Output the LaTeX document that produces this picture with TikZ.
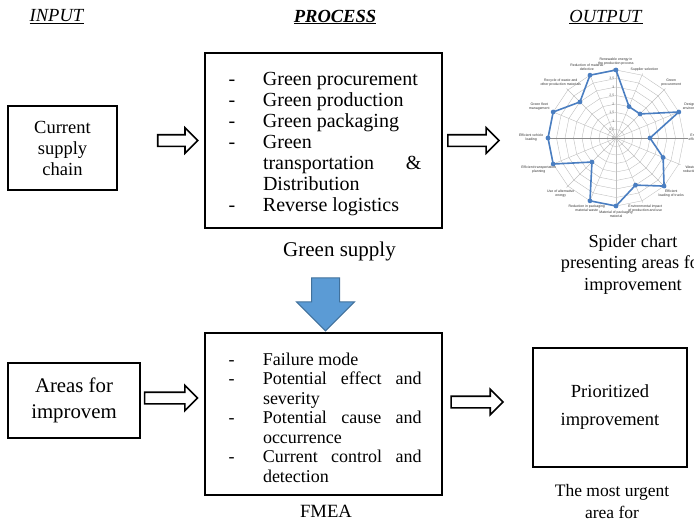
\documentclass[tikz,border=0pt]{standalone}
\usepackage{fontspec}
\setmainfont{Liberation Serif}
\newfontfamily\chartfont{Liberation Sans}
\usetikzlibrary{positioning, shapes.arrows}

\definecolor{arrowblue}{RGB}{91,155,213}
\definecolor{arrowedge}{RGB}{65,113,156}
\definecolor{seriesblue}{RGB}{74,126,193}

% one dashed entry of a box list, wrapped lines hang under the text
\newcommand{\dashitem}[1]{\par\noindent\hangindent=37.5pt\hangafter=1\makebox[37.5pt][l]{\hspace{3pt}-}#1\par}

\tikzset{
  head/.style={font=\fontsize{18.5}{20}\selectfont},
  smallbox/.style={draw, line width=1.6pt, align=center, inner sep=0pt},
  bigbox/.style={draw, line width=2.2pt, inner xsep=20.5pt, inner ysep=0pt,
    text width=196pt, minimum width=237pt, align=justify},
  hollow/.style={single arrow, draw, line width=1.6pt, inner sep=5pt,
    single arrow head extend=7pt, minimum height=40pt},
  gridline/.style={draw=black!25, line width=0.4pt},
  series/.style={draw=seriesblue, line width=1.6pt, line join=round},
  axislbl/.style={font=\chartfont\fontsize{3.5}{4}\selectfont, text=black!80,
    align=center, inner sep=0.5pt}
}

\begin{document}
\begin{tikzpicture}[x=1pt, y=-1pt]
    \useasboundingbox (0,0) rectangle (694,523);
    \clip (0,0) rectangle (694,523);

    % Column headings
    \node[head] (hin) at (57,17) {\underline{\textit{INPUT}}};
    \node[head] (hpro) at (335,17) {\underline{\textbf{\textit{PROCESS}}}};
    \node[head] (hout) at (606,17) {\underline{\textit{OUTPUT}}};

    % Upper row
    \node[smallbox, minimum width=109pt, minimum height=84pt,
      font=\fontsize{18.5}{21}\selectfont] (cur) at (62.5,148)
      {Current\\supply\\chain};
    \node[bigbox, minimum height=175pt, font=\fontsize{20}{21}\selectfont]
      (green) at (323.5,140.5) {%
      \dashitem{Green procurement}
      \dashitem{Green production}
      \dashitem{Green packaging}
      \dashitem{Green\hfill\break transportation \&\break Distribution}
      \dashitem{Reverse logistics}};
    \node[font=\fontsize{21}{22}\selectfont] (greencap) at (339.5,251) {Green supply};
    \node[hollow] (a1) [left=5pt of green] {};
    \node[hollow, minimum height=51pt] (a2) [right=4pt of green] {};

    % Lower row
    \node[smallbox, minimum width=132pt, minimum height=75pt,
      font=\fontsize{20.8}{26}\selectfont] (areas) at (74,400.5)
      {Areas for\\improvem};
    \node[bigbox, minimum height=162pt, font=\fontsize{18}{19.5}\selectfont]
      (fmea) at (323.5,414) {%
      \dashitem{Failure mode}
      \dashitem{Potential effect and\break severity}
      \dashitem{Potential cause and\break occurrence}
      \dashitem{Current control and\break detection}};
    \node[font=\fontsize{18.7}{20}\selectfont] (fmeacap) at (326,511) {FMEA};
    \node[smallbox, minimum width=154pt, minimum height=119pt,
      font=\fontsize{18.5}{28}\selectfont] (prior) at (610,407.5)
      {Prioritized\\improvement};
    \node[align=center, font=\fontsize{17.5}{22}\selectfont] (urgent) at (612,502)
      {The most urgent\\area for};
    \node[hollow, minimum height=53pt, yshift=2.5pt] (a3) [right=3pt of areas] {};
    \node[hollow, minimum height=52pt, yshift=5.5pt] (a4) [left=28pt of prior] {};

    % Green supply feeds the FMEA
    \node[single arrow, rotate=-90, fill=arrowblue, draw=arrowedge, line width=1pt,
      inner sep=13.5pt, single arrow head extend=15pt, minimum height=53pt]
      (down) at ([xshift=2pt, yshift=34.5pt]fmea.north) {};

    % Spider chart
    \begin{scope}[shift={(616,138)}, x=1pt, y=1pt]
        \foreach \r in {1,...,8}
            \draw[gridline] (90:8.5*\r) \foreach \i in {1,...,15} { -- (90-22.5*\i:8.5*\r) } -- cycle;
        \foreach \i in {0,...,15}
            \draw[gridline] (0,0) -- (90-22.5*\i:70);
        \draw[draw=black!45, line width=0.5pt] (180:70) -- (0:72);
        \foreach \t [count=\k from 0] in {0,0.5,1,1.5,2,2.5,3,3.5,4}
            \node[axislbl, anchor=east, text=black!60] (s\k) at (-1, 8.5*\k) {\t};
        \draw[series] (90:68) \foreach \a/\v in {67.5/34, 45/34, 22.5/68, 0/34,
            -22.5/51, -45/68, -67.5/51, -90/68, -112.5/68, -135/34, -157.5/68,
            180/68, 157.5/68, 135/51, 112.5/68} { -- (\a:\v) } -- cycle;
        \foreach \a/\v in {90/68, 67.5/34, 45/34, 22.5/68, 0/34, -22.5/51, -45/68,
            -67.5/51, -90/68, -112.5/68, -135/34, -157.5/68, 180/68, 157.5/68,
            135/51, 112.5/68}
            \fill[seriesblue] (\a:\v) circle (2.4);
        \foreach \a/\t [evaluate=\a as \b using \a+180] in {
            90/{Renewable energy in\\the production process},
            67.5/{Supplier selection},
            45/{Green\\procurement},
            22.5/{Design for\\environment},
            0/{Energy\\efficiency},
            -22.5/{Waste\\reduction},
            -45/{Efficient\\loading of trucks},
            -67.5/{Environmental impact\\of production and use},
            -90/{Material of packaging\\material},
            -112.5/{Reduction in packaging\\material waste},
            -135/{Use of alternative\\energy},
            -157.5/{Efficient transportation\\planning},
            180/{Efficient vehicle\\loading},
            157.5/{Green fleet\\management},
            135/{Recycle of waste and\\other production materials},
            112.5/{Reduction of material\\defective}}
            \node[axislbl, anchor=\b] at (\a:72) {\t};
    \end{scope}
    \node[align=center, font=\fontsize{18.3}{21.5}\selectfont] (spidercap) at (633,264.5)
      {Spider chart\\presenting areas for\\improvement};
\end{tikzpicture}
\end{document}
